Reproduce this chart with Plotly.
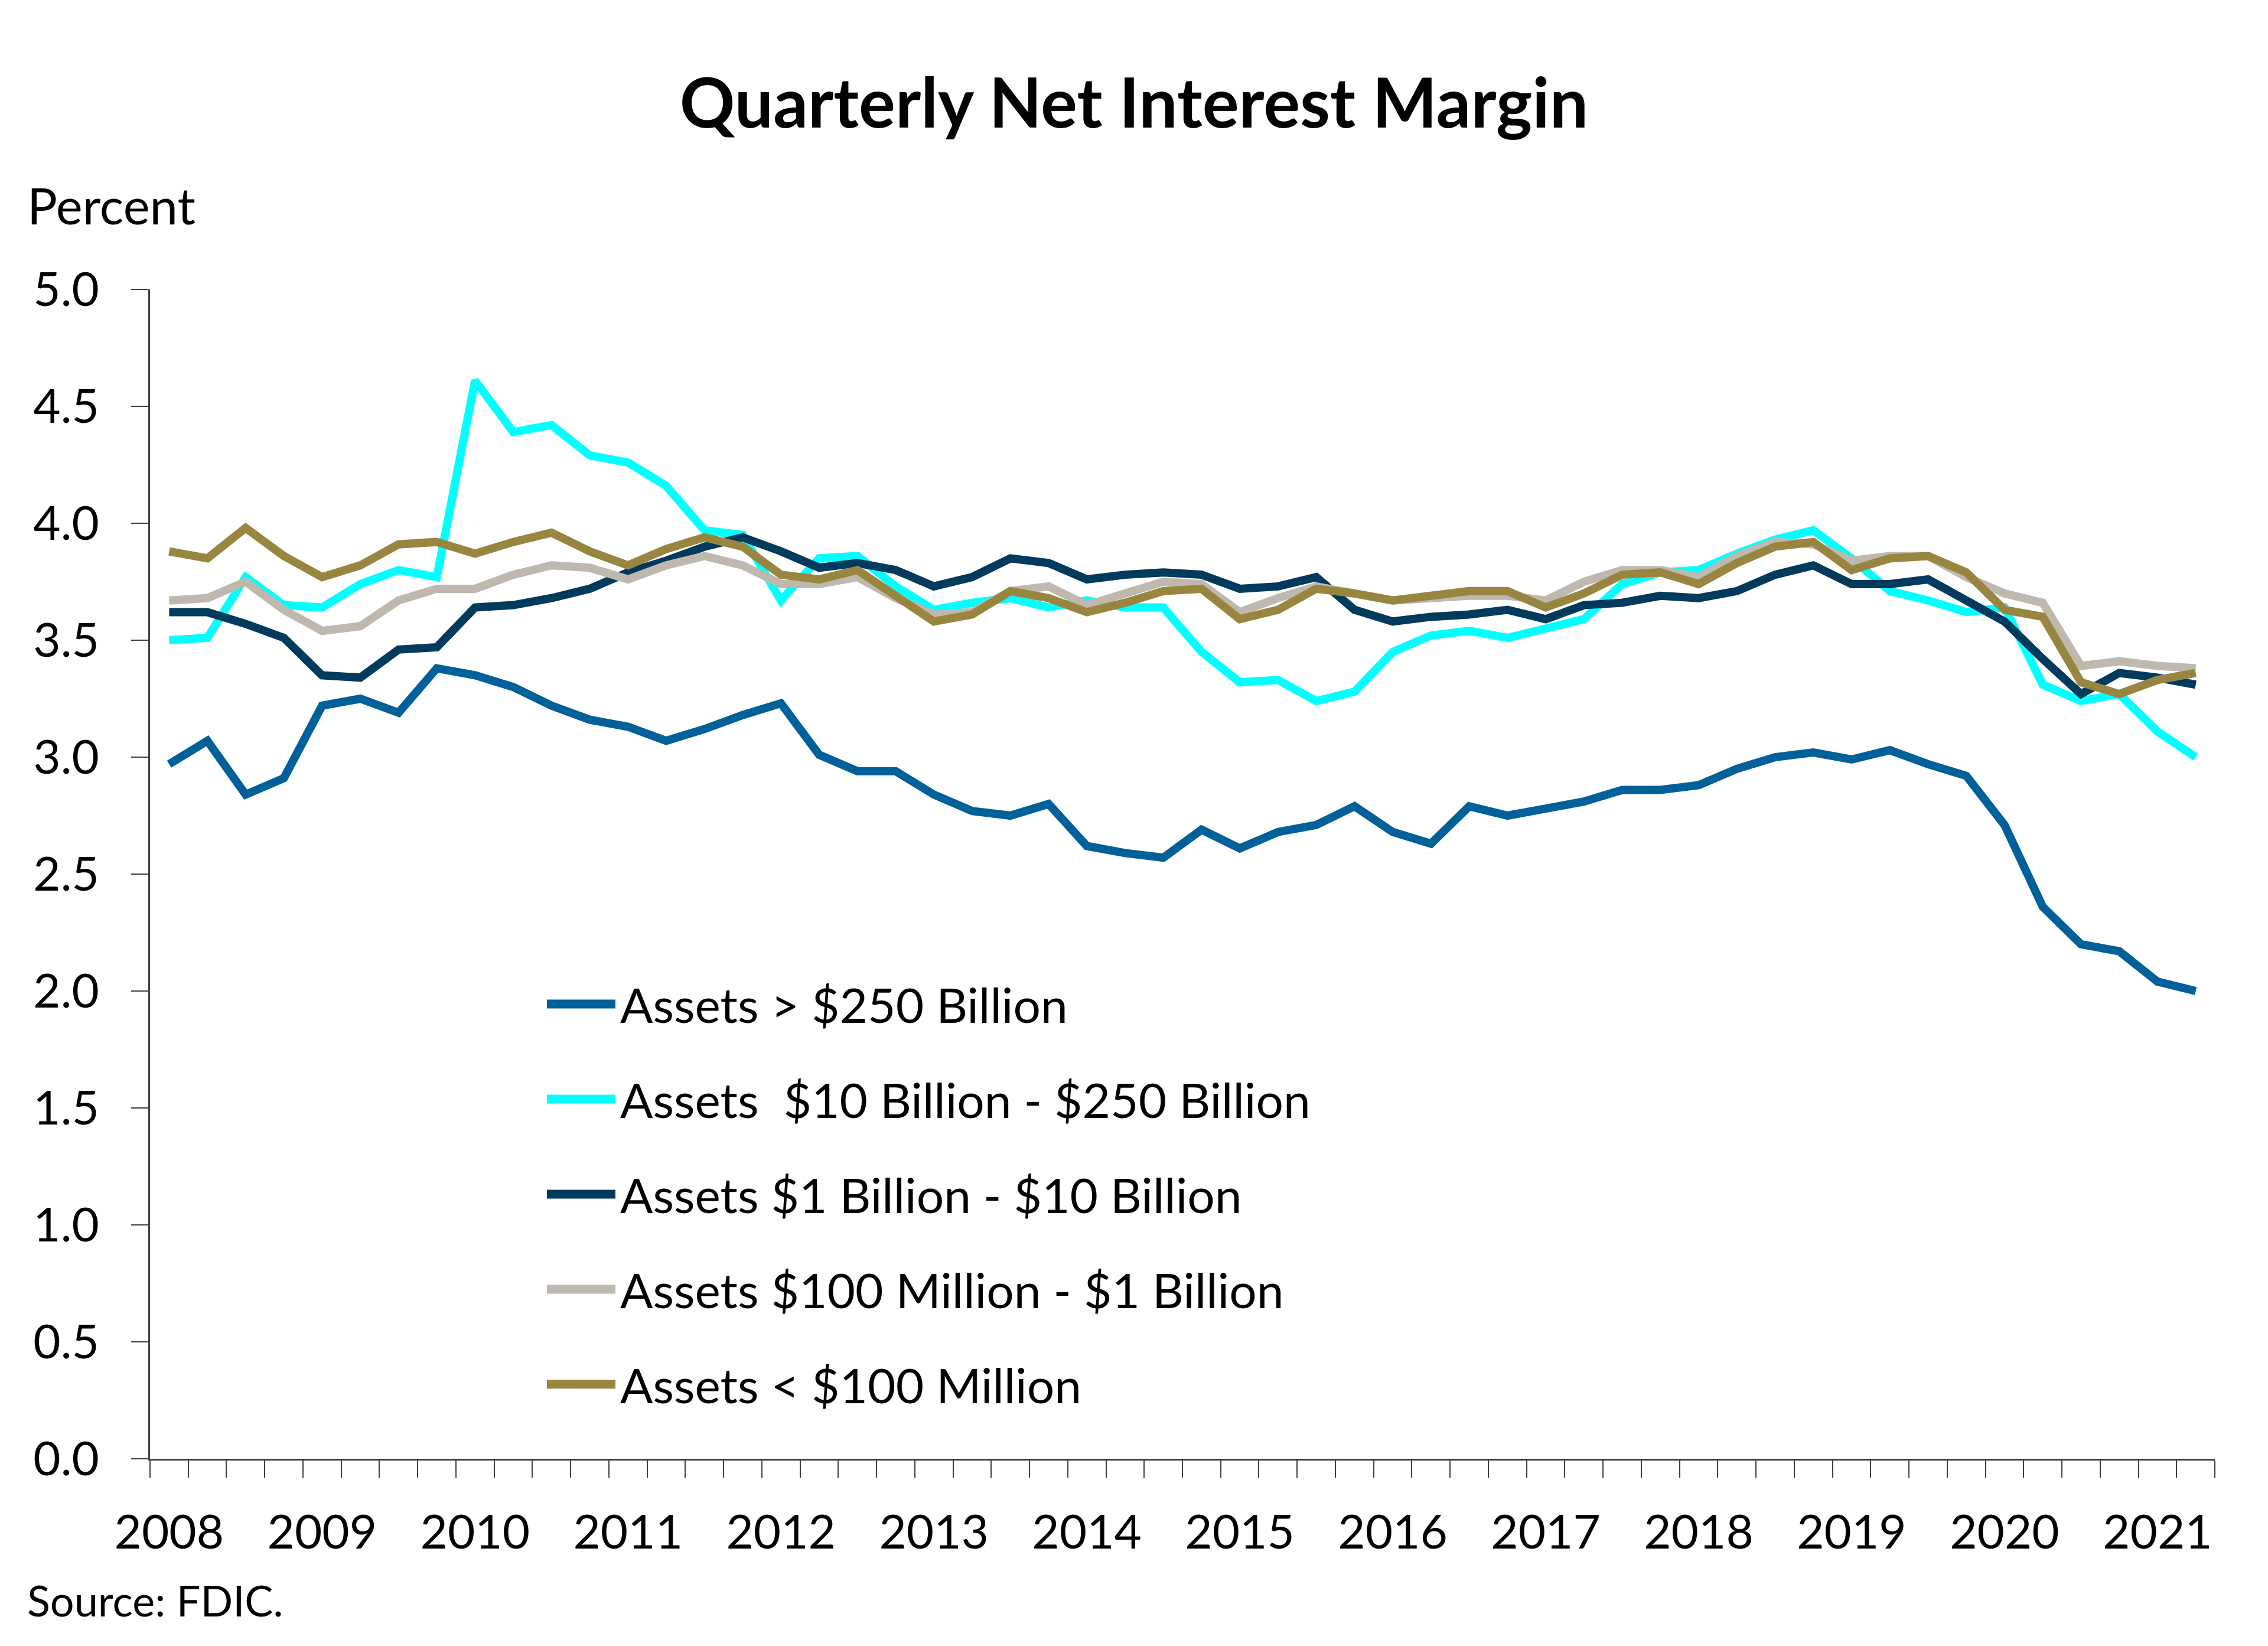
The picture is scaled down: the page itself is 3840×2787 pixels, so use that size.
import plotly.graph_objects as go

# ---------------- data ----------------
quarters = [f"{y} Q{q}" for y in range(2008, 2022) for q in range(1, 5)][:54]
year_labels = [str(y) for y in range(2008, 2022)]

series_names = [
    "Assets > $250 Billion",
    "Assets\u00a0 $10 Billion - $250 Billion",
    "Assets $1 Billion - $10 Billion",
    "Assets $100 Million - $1 Billion",
    "Assets < $100 Million",
]

nim_over_250b = [2.97, 3.07, 2.84, 2.91, 3.22, 3.25, 3.19, 3.38, 3.35, 3.30,
                 3.22, 3.16, 3.13, 3.07, 3.12, 3.18, 3.23, 3.01, 2.94, 2.94,
                 2.84, 2.77, 2.75, 2.80, 2.62, 2.59, 2.57, 2.69, 2.61, 2.68,
                 2.71, 2.79, 2.68, 2.63, 2.79, 2.75, 2.78, 2.81, 2.86, 2.86,
                 2.88, 2.95, 3.00, 3.02, 2.99, 3.03, 2.97, 2.92, 2.71, 2.36,
                 2.20, 2.17, 2.04, 2.00]
nim_10b_250b = [3.50, 3.51, 3.77, 3.65, 3.64, 3.74, 3.80, 3.77, 4.61, 4.39,
                4.42, 4.29, 4.26, 4.16, 3.97, 3.95, 3.67, 3.85, 3.86, 3.73,
                3.63, 3.66, 3.68, 3.64, 3.67, 3.64, 3.64, 3.45, 3.32, 3.33,
                3.24, 3.28, 3.45, 3.52, 3.54, 3.51, 3.55, 3.59, 3.74, 3.79,
                3.80, 3.87, 3.93, 3.97, 3.85, 3.71, 3.67, 3.62, 3.64, 3.31,
                3.24, 3.27, 3.11, 3.00]
nim_1b_10b = [3.62, 3.62, 3.57, 3.51, 3.35, 3.34, 3.46, 3.47, 3.64, 3.65,
              3.68, 3.72, 3.79, 3.84, 3.90, 3.94, 3.88, 3.81, 3.83, 3.80,
              3.73, 3.77, 3.85, 3.83, 3.76, 3.78, 3.79, 3.78, 3.72, 3.73,
              3.77, 3.63, 3.58, 3.60, 3.61, 3.63, 3.59, 3.65, 3.66, 3.69,
              3.68, 3.71, 3.78, 3.82, 3.74, 3.74, 3.76, 3.67, 3.58, 3.42,
              3.27, 3.36, 3.34, 3.31]
nim_100m_1b = [3.67, 3.68, 3.75, 3.63, 3.54, 3.56, 3.67, 3.72, 3.72, 3.78,
               3.82, 3.81, 3.76, 3.82, 3.86, 3.82, 3.74, 3.74, 3.77, 3.68,
               3.61, 3.62, 3.71, 3.73, 3.65, 3.70, 3.75, 3.74, 3.62, 3.68,
               3.73, 3.70, 3.67, 3.68, 3.69, 3.69, 3.67, 3.75, 3.80, 3.80,
               3.77, 3.86, 3.92, 3.91, 3.84, 3.86, 3.86, 3.77, 3.70, 3.66,
               3.39, 3.41, 3.39, 3.38]
nim_under_100m = [3.88, 3.85, 3.98, 3.86, 3.77, 3.82, 3.91, 3.92, 3.87, 3.92,
                  3.96, 3.88, 3.82, 3.89, 3.94, 3.90, 3.78, 3.76, 3.80, 3.69,
                  3.58, 3.61, 3.71, 3.68, 3.62, 3.66, 3.71, 3.72, 3.59, 3.63,
                  3.72, 3.70, 3.67, 3.69, 3.71, 3.71, 3.64, 3.70, 3.78, 3.79,
                  3.74, 3.83, 3.90, 3.92, 3.80, 3.85, 3.86, 3.79, 3.63, 3.60,
                  3.32, 3.27, 3.33, 3.36]

series_values = [nim_over_250b, nim_10b_250b, nim_1b_10b, nim_100m_1b, nim_under_100m]
colors = ["#00609A", "#00FFFF", "#003A5C", "#BFB8AE", "#988640"]

# ---------------- figure ----------------
FONT = "Lato"
x_idx = list(range(len(quarters)))

fig = go.Figure()
for name, vals, col in zip(series_names, series_values, colors):
    fig.add_trace(go.Scatter(
        x=x_idx, y=vals, name=name, mode="lines",
        line=dict(color=col, width=14),
        customdata=quarters,
        hovertemplate="%{customdata}: %{y:.2f}<extra>" + name + "</extra>",
        showlegend=False,
    ))

# custom legend (long line keys like the original)
leg_x0, leg_x1, leg_tx = 0.1922, 0.2254, 0.2271
leg_y0, leg_dy = 0.3889, 0.0813
shapes, annotations = [], []
for k, (name, col) in enumerate(zip(series_names, colors)):
    yy = leg_y0 - k * leg_dy
    shapes.append(dict(type="line", xref="paper", yref="paper",
                       x0=leg_x0, x1=leg_x1, y0=yy, y1=yy,
                       line=dict(color=col, width=15)))
    annotations.append(dict(text=name, xref="paper", yref="paper",
                            x=leg_tx, y=yy, xanchor="left", yanchor="middle",
                            showarrow=False,
                            font=dict(family=FONT, size=82, color="black")))

annotations.append(dict(text="Percent", xref="paper", yref="paper",
                        x=-0.0601, y=1.0722, xanchor="left", yanchor="middle",
                        showarrow=False, font=dict(family=FONT, size=85, color="black")))
annotations.append(dict(text="Source: FDIC.", xref="paper", yref="paper",
                        x=-0.0601, y=-0.1207, xanchor="left", yanchor="middle",
                        showarrow=False, font=dict(family=FONT, size=72, color="black")))

W, H = 3824, 2765
fig.update_layout(
    width=W, height=H,
    margin=dict(l=246, r=82, t=482, b=H - 482 - 1980),
    paper_bgcolor="white", plot_bgcolor="white",
    title=dict(text="<b>Quarterly Net Interest Margin</b>", xref="container", x=0.5,
               xanchor="center", y=1 - 167 / H, yanchor="middle",
               font=dict(family=FONT, size=116, color="black")),
    font=dict(family=FONT, color="black"),
    shapes=shapes, annotations=annotations,
    showlegend=False,
)
fig.update_xaxes(
    range=[-0.5, len(quarters) - 0.5],
    tickmode="array", tickvals=x_idx[::4], ticktext=year_labels,
    ticks="outside", ticklen=0, ticklabelstandoff=53,
    tickfont=dict(family=FONT, size=80, color="black"),
    showline=True, linecolor="#404040", linewidth=3,
    showgrid=False, zeroline=False,
    minor=dict(tickmode="linear", tick0=-0.5, dtick=1, ticks="outside",
               ticklen=29, tickcolor="#404040", tickwidth=2, showgrid=False),
)
fig.update_yaxes(
    range=[0, 5], tickmode="linear", tick0=0, dtick=0.5, tickformat=".1f",
    ticks="outside", ticklen=29, tickcolor="#404040", tickwidth=2,
    ticklabelstandoff=38,
    tickfont=dict(family=FONT, size=80, color="black"),
    showline=True, linecolor="#404040", linewidth=3,
    showgrid=False, zeroline=False,
)

fig.write_html("out.html")
